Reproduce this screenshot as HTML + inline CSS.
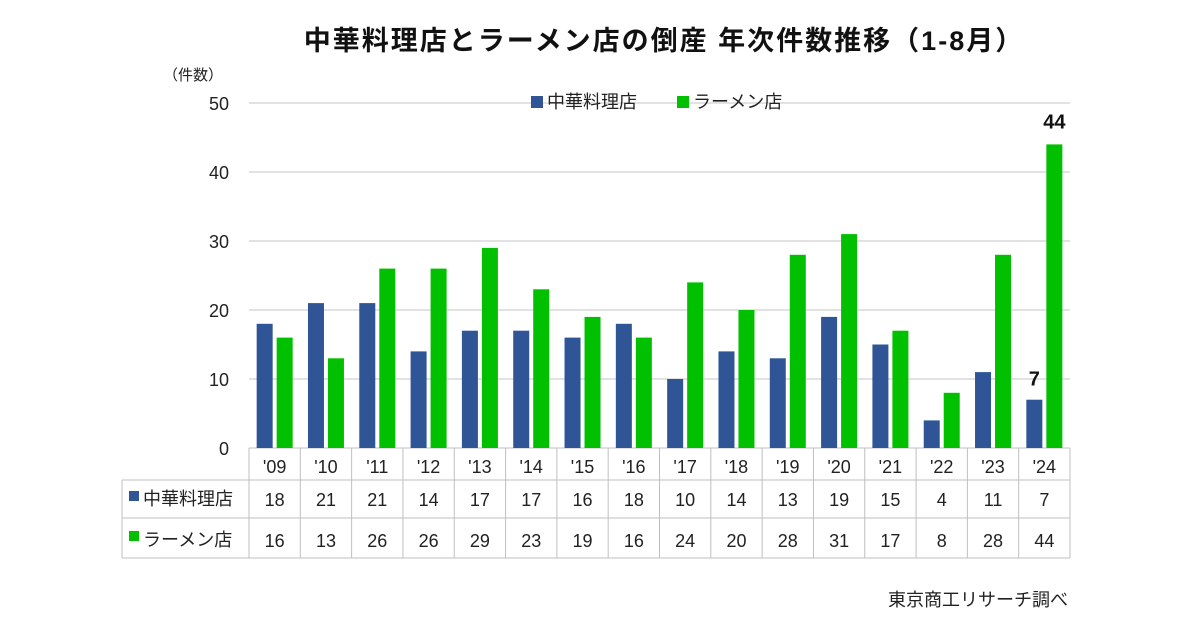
<!DOCTYPE html>
<html><head><meta charset="utf-8"><style>
body{margin:0;background:#fff;width:1200px;height:630px;overflow:hidden}
text{font-family:"Liberation Sans","Noto Sans CJK JP",sans-serif}
</style></head><body>
<svg id="c" width="1200" height="630">
<text x="664" y="50" text-anchor="middle" font-size="27" font-weight="bold" letter-spacing="2" fill="#111">中華料理店とラーメン店の倒産  年次件数推移（1-8月）</text>
<text x="163" y="80" font-size="15" fill="#222">（件数）</text>
<g id="g"></g>
<g>
<rect x="531" y="96" width="12" height="12" fill="#2f5597"/>
<text x="547" y="108" font-size="18" fill="#222">中華料理店</text>
<rect x="677" y="96" width="12" height="12" fill="#00c000"/>
<text x="693" y="108" font-size="18" fill="#222">ラーメン店</text>
</g>
<text x="1068" y="606" text-anchor="end" font-size="18" fill="#222">東京商工リサーチ調べ</text>
</svg>
<script>
const categories=["'09","'10","'11","'12","'13","'14","'15","'16","'17","'18","'19","'20","'21","'22","'23","'24"];
const chukaValues=[18,21,21,14,17,17,16,18,10,14,13,19,15,4,11,7];
const ramenValues=[16,13,26,26,29,23,19,16,24,20,28,31,17,8,28,44];
const yTicks=[0,10,20,30,40,50];
const NS="http://www.w3.org/2000/svg";
const g=document.getElementById('g');
const L=249,R=1070,Y0=448,Y50=103;
const cw=(R-L)/categories.length;
const y=v=>Y0-(v/50)*(Y0-Y50);
const xc=i=>L+cw*(i+0.5);
function mk(t,a){const e=document.createElementNS(NS,t);for(const k in a)e.setAttribute(k,a[k]);g.appendChild(e);return e;}
yTicks.forEach(t=>{
 if(t>0){const l=mk('line',{x1:L,x2:R,y1:y(t),y2:y(t),stroke:'#d9d9d9','stroke-width':1.5});
 
 }
 const tx=mk('text',{x:229,y:y(t)+7,'text-anchor':'end','font-size':18,fill:'#222'});tx.textContent=t;
 
 
});
const TL=122,r1=480,r2=518,r3=558;
[[L,Y0,R,Y0],[TL,r1,R,r1],[TL,r2,R,r2],[TL,r3,R,r3],[TL,r1,TL,r3]].forEach(a=>{
 const l=mk('line',{x1:a[0],y1:a[1],x2:a[2],y2:a[3],stroke:'#bfbfbf','stroke-width':1});
 
 
});
for(let i=0;i<=categories.length;i++){
 const l=mk('line',{x1:L+cw*i,x2:L+cw*i,y1:Y0,y2:r3,stroke:'#bfbfbf','stroke-width':1});
 
 
}
let s=mk('rect',{x:129,y:491,width:10,height:10,fill:'#2f5597'});


let t=mk('text',{x:143,y:505,'font-size':18,fill:'#222'});t.textContent='中華料理店';


s=mk('rect',{x:129,y:531,width:10,height:10,fill:'#00c000'});


t=mk('text',{x:143,y:546,'font-size':18,fill:'#222'});t.textContent='ラーメン店';


const bw=16;
categories.forEach((c,i)=>{
 const cx=xc(i);
 let b=mk('rect',{x:cx-bw-2,y:y(chukaValues[i]),width:bw,height:Y0-y(chukaValues[i]),fill:'#2f5597'});
 
 
 b=mk('rect',{x:cx+2,y:y(ramenValues[i]),width:bw,height:Y0-y(ramenValues[i]),fill:'#00c000'});
 
 
 let tx=mk('text',{x:cx,y:473,'text-anchor':'middle','font-size':18,fill:'#222'});tx.textContent=c;
 
 
 tx=mk('text',{x:cx,y:506,'text-anchor':'middle','font-size':18,fill:'#222'});tx.textContent=chukaValues[i];
 
 
 tx=mk('text',{x:cx,y:547,'text-anchor':'middle','font-size':18,fill:'#222'});tx.textContent=ramenValues[i];
 
 
});
const li=categories.length-1;
let a=mk('text',{x:xc(li)-bw/2-2,y:y(chukaValues[li])-14,'text-anchor':'middle','font-size':20,'font-weight':'bold',fill:'#111'});a.textContent=chukaValues[li];


a=mk('text',{x:xc(li)+bw/2+2,y:y(ramenValues[li])-16,'text-anchor':'middle','font-size':20,'font-weight':'bold',fill:'#111'});a.textContent=ramenValues[li];


</script>
</body></html>
